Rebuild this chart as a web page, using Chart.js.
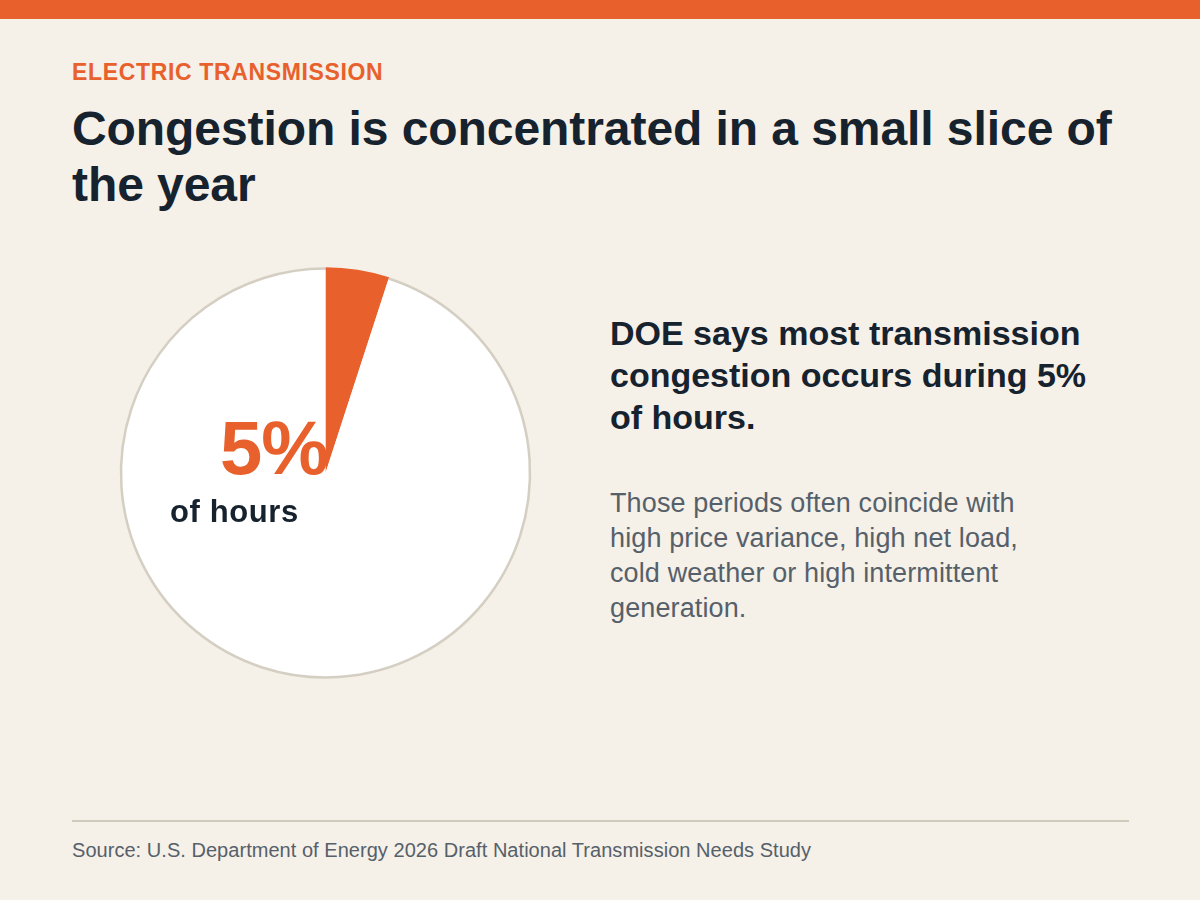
<!DOCTYPE html>
<html lang="en">
<head>
  <meta charset="UTF-8">
  <title>Congestion is concentrated in a small slice of the year</title>
  <script src="https://cdn.jsdelivr.net/npm/chart.js"></script>
  <style>
    html, body { margin: 0; padding: 0; }
    body { width: 1200px; height: 900px; background: #f5f0e8; position: relative; overflow: hidden;
           font-family: "Liberation Sans", Arial, sans-serif; }
    .topbar { position: absolute; left: 0; top: 0; width: 1200px; height: 19px; background: #e8602c; }
    .eyebrow { position: absolute; left: 72px; top: 58px; font-size: 23px; line-height: 28px; font-weight: 700; letter-spacing: 0.65px; color: #e8602c; }
    h1 { position: absolute; left: 72px; top: 101px; width: 1060px; margin: 0; font-size: 48px; line-height: 56px; font-weight: 700; letter-spacing: -0.07px; color: #16222e; }
    .chart-box { position: absolute; left: 115px; top: 262px; width: 421px; height: 422px; }
    .big { position: absolute; left: 220px; top: 408px; font-size: 76px; line-height: 80px; font-weight: 700; letter-spacing: -1px; color: #e8602c; }
    .unit { position: absolute; left: 170px; top: 494px; font-size: 31px; line-height: 36px; font-weight: 700; letter-spacing: 0.6px; color: #16222e; }
    .lead { position: absolute; left: 610px; top: 312px; width: 500px; margin: 0; font-size: 34px; line-height: 42px; font-weight: 700; color: #16222e; }
    .note { position: absolute; left: 610px; top: 486px; width: 440px; margin: 0; font-size: 27px; line-height: 35px; letter-spacing: 0.12px; color: #56606a; }
    .rule { position: absolute; left: 72px; top: 820px; width: 1057px; height: 2px; background: #cfcabb; }
    .source { position: absolute; left: 72px; top: 838px; font-size: 20px; line-height: 24px; letter-spacing: 0.04px; color: #56606a; }
  </style>
</head>
<body>
  <div class="topbar"></div>
  <div class="eyebrow">ELECTRIC TRANSMISSION</div>
  <h1>Congestion is concentrated in a small slice of the year</h1>

  <div class="chart-box"><canvas id="pie"></canvas></div>
  <div class="big">5%</div>
  <div class="unit">of hours</div>

  <p class="lead">DOE says most transmission congestion occurs during 5% of hours.</p>
  <p class="note">Those periods often coincide with high price variance, high net load, cold weather or high intermittent generation.</p>

  <div class="rule"></div>
  <div class="source">Source: U.S. Department of Energy 2026 Draft National Transmission Needs Study</div>

  <script>
    // Share of hours in the year
    const labels = ['Congested hours', 'Other hours'];
    const shares = [5, 95];

    new Chart(document.getElementById('pie'), {
      type: 'pie',
      data: {
        labels: labels,
        datasets: [{
          data: shares,
          backgroundColor: ['#e8602c', '#ffffff'],
          borderWidth: 0
        }]
      },
      options: {
        responsive: true,
        maintainAspectRatio: false,
        animation: false,
        layout: { padding: 6 },
        plugins: { legend: { display: false }, tooltip: { enabled: false } }
      },
      plugins: [{
        // thin ring round the pie, orange along the small slice
        id: 'ring',
        afterDatasetsDraw(chart) {
          const ctx = chart.ctx;
          const colors = ['#e8602c', '#d4cfc2'];
          ctx.save();
          ctx.lineWidth = 2.5;
          chart.getDatasetMeta(0).data.forEach((arc, i) => {
            ctx.beginPath();
            ctx.arc(arc.x, arc.y, arc.outerRadius, arc.startAngle, arc.endAngle);
            ctx.strokeStyle = colors[i];
            ctx.stroke();
          });
          ctx.restore();
        }
      }]
    });
  </script>
</body>
</html>
